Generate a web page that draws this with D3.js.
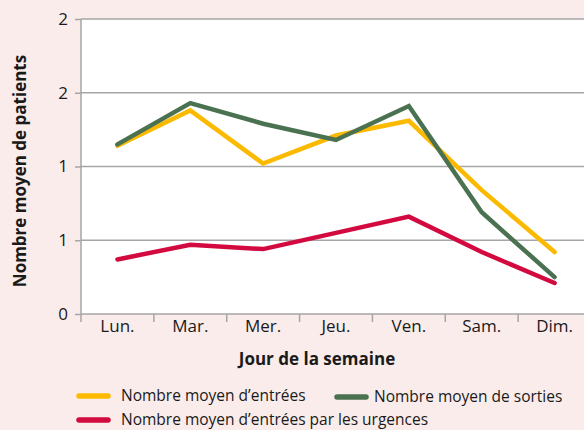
<!DOCTYPE html>
<html>
<head>
<meta charset="utf-8">
<script src="https://cdn.jsdelivr.net/npm/d3@7"></script>
<style>
    body { margin: 0; background: #f9eceb; }
    svg { display: block; font-family: "Open Sans", "DejaVu Sans", sans-serif; }
    .grid line { stroke: #a6a6a6; stroke-width: 1.5; }
    .axis path, .axis line { stroke: #a6a6a6; stroke-width: 1.5; }
    .axis text { fill: #1a1a1a; font-size: 17px; font-family: "Open Sans", sans-serif; }
</style>
</head>
<body>
<svg id="chart" width="584" height="430"></svg>
<script>
// jours de la semaine
var days = ['Lun.', 'Mar.', 'Mer.', 'Jeu.', 'Ven.', 'Sam.', 'Dim.'];
var yTicks = [0, 0.5, 1, 1.5, 2];

var entrees = [1.14, 1.38, 1.02, 1.21, 1.31, 0.84, 0.42];
var sorties = [1.15, 1.43, 1.29, 1.18, 1.41, 0.69, 0.25];
var urgences = [0.37, 0.47, 0.44, 0.55, 0.66, 0.42, 0.21];

var seriesNames = ['Nombre moyen d\u2019entrées', 'Nombre moyen de sorties',
                   'Nombre moyen d\u2019entrées par les urgences'];
var seriesColors = ['#fbba00', '#4b7250', '#d20a3f'];

var svg = d3.select('#chart');
var margin = {left: 81, right: -7, top: 19, bottom: 116};
var width = 584 - margin.left - margin.right;
var height = 430 - margin.top - margin.bottom;

svg.append('rect')
    .attr('x', margin.left).attr('y', margin.top)
    .attr('width', width).attr('height', height)
    .attr('fill', '#ffffff');

var g = svg.append('g')
    .attr('transform', 'translate(' + margin.left + ',' + margin.top + ')');

var x = d3.scaleBand().domain(days).range([0, width]);
var y = d3.scaleLinear().domain([0, 2]).range([height, 0]);

g.append('g').attr('class', 'grid')
    .selectAll('line')
    .data(yTicks.slice(1))
  .enter().append('line')
    .attr('x1', 0).attr('x2', width)
    .attr('y1', function(d) { return y(d); })
    .attr('y2', function(d) { return y(d); });

var yAxis = g.append('g').attr('class', 'axis')
    .call(d3.axisLeft(y).tickValues(yTicks).tickFormat(d3.format('.0f')).tickSize(6).tickPadding(7));
yAxis.select('.domain').attr('d', 'M0,' + height + 'V0');

// x axis with ticks between categories
var xAxis = g.append('g').attr('class', 'axis')
    .attr('transform', 'translate(0,' + height + ')')
    .call(d3.axisBottom(x).tickSize(0).tickPadding(6));
xAxis.select('.domain').attr('d', 'M0,0H' + width);
xAxis.selectAll('.sep')
    .data(d3.range(days.length))
  .enter().append('line')
    .attr('class', 'sep')
    .attr('x1', function(i) { return i * x.step(); })
    .attr('x2', function(i) { return i * x.step(); })
    .attr('y1', 0).attr('y2', 8);

var line = d3.line()
    .x(function(d, i) { return x(days[i]) + x.bandwidth() / 2; })
    .y(function(d) { return y(d); });

[entrees, sorties, urgences].forEach(function(values, k) {
    g.append('path')
        .datum(values)
        .attr('fill', 'none')
        .attr('stroke', seriesColors[k])
        .attr('stroke-width', 4.5)
        .attr('stroke-linejoin', 'miter')
        .attr('stroke-linecap', 'round')
        .attr('d', line);
});

svg.append('text')
    .attr('transform', 'translate(26,' + 171 + ')rotate(-90)')
    .attr('text-anchor', 'middle')
    .attr('font-size', 17).attr('font-weight', 'bold').attr('fill', '#1a1a1a')
    .text('Nombre moyen de patients');

svg.append('text')
    .attr('x', 317).attr('y', 365)
    .attr('text-anchor', 'middle')
    .attr('font-size', 17).attr('font-weight', 'bold').attr('fill', '#1a1a1a')
    .text('Jour de la semaine');

// legende
var legendPos = [[77, 396], [335, 397], [77, 420]];
var legend = svg.selectAll('.legend')
    .data(seriesNames)
  .enter().append('g')
    .attr('class', 'legend')
    .attr('transform', function(d, i) { return 'translate(' + legendPos[i][0] + ',' + legendPos[i][1] + ')'; });
legend.append('line')
    .attr('x1', 2).attr('x2', 31)
    .attr('stroke', function(d, i) { return seriesColors[i]; })
    .attr('stroke-width', 5.5)
    .attr('stroke-linecap', 'round');
legend.append('text')
    .attr('x', function(d, i) { return i === 1 ? 39 : 44; })
    .attr('dy', '0.35em')
    .attr('font-size', 15.5).attr('fill', '#1a1a1a')
    .text(function(d) { return d; });
</script>
</body>
</html>
